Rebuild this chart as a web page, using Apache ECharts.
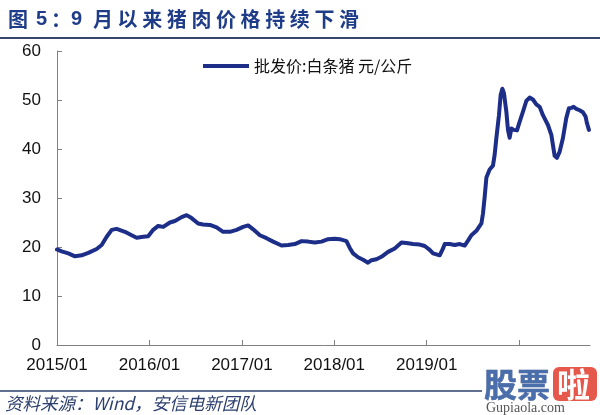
<!DOCTYPE html>
<html>
<head>
<meta charset="utf-8">
<style>html,body{margin:0;padding:0;background:#fff;}#c{width:600px;height:415px;}</style>
<script src="https://cdn.jsdelivr.net/npm/echarts@6/dist/echarts.min.js"></script>
</head>
<body>
<div id="c"></div>
<script>
// months since 2015/01 (fractional) and wholesale price 元/公斤
const months = [0,0.61,1.47,2.34,3.20,4.06,5.15,5.80,6.45,7.10,7.74,8.82,9.69,10.34,11.20,11.84,12.49,13.14,13.79,14.66,15.31,16.18,16.83,17.47,18.33,18.94,19.85,20.72,21.57,22.44,23.31,24.17,24.82,25.47,26.34,27.20,28.06,29.15,30.01,30.88,31.75,32.60,33.47,34.34,35.20,36.07,36.71,37.58,38.01,38.44,39.09,39.74,40.38,40.83,41.47,42.12,42.98,43.85,44.72,45.37,46.22,47.09,47.74,48.39,48.82,49.69,50.12,50.34,50.98,51.63,52.28,52.93,53.36,53.80,54.45,55.10,55.31,55.53,55.75,56.17,56.60,56.82,57.04,57.38,57.60,57.82,58.03,58.34,58.55,58.77,58.99,59.29,59.72,60.07,60.49,60.93,61.36,61.79,62.23,62.66,63.09,63.74,64.18,64.39,64.61,64.90,65.25,65.68,66.12,66.46,66.77,67.07,67.42,67.85,68.28,68.63,68.80,68.98,69.06];
const prices = [19.5,19.1,18.7,18.1,18.3,18.8,19.6,20.4,22.1,23.5,23.7,23.1,22.4,21.9,22.1,22.2,23.5,24.3,24.1,25.0,25.3,26.1,26.5,25.9,24.8,24.6,24.5,24.0,23.1,23.1,23.5,24.1,24.4,23.6,22.4,21.8,21.1,20.3,20.4,20.6,21.2,21.1,20.9,21.1,21.6,21.7,21.6,21.2,19.8,18.7,17.9,17.4,16.8,17.3,17.5,18.0,19.0,19.7,20.9,20.8,20.6,20.5,20.2,19.4,18.7,18.3,19.7,20.6,20.6,20.4,20.6,20.3,21.3,22.4,23.3,24.8,26.9,30.3,34.2,35.8,36.6,38.8,42.2,46.9,51.0,52.3,51.4,47.6,43.9,42.3,44.2,43.9,43.8,45.6,47.6,49.8,50.5,50.1,49.1,48.6,46.9,44.9,42.9,40.8,38.6,38.2,39.4,42.2,46.3,48.3,48.4,48.6,48.2,47.9,47.5,46.6,45.3,45.7,43.9];
const yearTicks = [0,12,24,36,48,60];
const yearLabels = ['2015/01','2016/01','2017/01','2018/01','2019/01','2020/01'];
const shownLabelTicks = [0,12,24,36,48];
const seriesName = '批发价:白条猪 元/公斤';
const titleHead = [['图',8,'cjk'],['5',36,'lat'],['：',51,'cjk'],['9',71,'lat']];
const titleTail = '月以来猪肉价格持续下滑';
const footerText = '资料来源：Wind，安信电新团队';

const chart = echarts.init(document.getElementById('c'), null, {renderer:'canvas'});
const navy = '#1f3c88';
const graphics = [];
titleHead.forEach(function(t){
  graphics.push({type:'text', x:t[1], y:19, style:{text:t[0], fill:navy, verticalAlign:'middle',
    font: t[2]==='lat' ? 'bold 20px "Liberation Sans"' : 'bold 20px "Noto Sans CJK SC"'}});
});
titleTail.split('').forEach(function(ch,i){
  graphics.push({type:'text', x:93+i*24.6, y:19, style:{text:ch, fill:navy, verticalAlign:'middle', font:'bold 20px "Noto Sans CJK SC"'}});
});
graphics.push({type:'line', shape:{x1:0,y1:38,x2:600,y2:38}, style:{stroke:'#34446b', lineWidth:2}});
graphics.push({type:'line', shape:{x1:0,y1:391,x2:482,y2:391}, style:{stroke:'#2c3f6e', lineWidth:1.5}});
graphics.push({type:'text', x:5, y:403, style:{text:footerText, fill:'#2c3f6e', verticalAlign:'middle', font:'italic 17.5px "Noto Sans CJK SC"'}});
// watermark
graphics.push({type:'text', x:484, y:384, z:10, style:{text:'股票', fill:'#4a6eab', stroke:'#2f4f8a', lineWidth:0.5, verticalAlign:'middle', font:'bold 33px "Noto Sans CJK SC"'}});
graphics.push({type:'rect', shape:{x:553,y:367,width:44,height:34,r:6}, z:10, style:{fill:'#e6584b'}});
graphics.push({type:'text', x:557, y:384, z:11, style:{text:'啦', fill:'#fff', verticalAlign:'middle', font:'bold 33px "Noto Sans CJK SC"'}});
graphics.push({type:'text', x:486, y:408, z:10, style:{text:'Gupiaola.com', fill:'#555', verticalAlign:'middle', font:'14px "Liberation Serif"'}});

chart.setOption({
  animation:false,
  backgroundColor:'#fff',
  grid:{left:57, right:10, top:51, bottom:70, containLabel:false},
  legend:{show:true, left:198, top:53, icon:'rect', itemWidth:46, itemHeight:4, itemGap:4,
    textStyle:{fontSize:16, color:'#111', fontFamily:'"Noto Sans CJK SC"'}, data:[seriesName]},
  xAxis:{type:'value', min:0, max:69.2,
    axisLine:{show:true, lineStyle:{color:'#808080', width:1}},
    axisTick:{show:true, inside:true, length:5, customValues:yearTicks, lineStyle:{color:'#808080'}},
    splitLine:{show:false},
    axisLabel:{customValues:shownLabelTicks, fontSize:17, color:'#111', margin:12, fontFamily:'"Liberation Sans"',
      formatter:function(v){ const i = yearTicks.indexOf(Math.round(v)); return i>=0 ? yearLabels[i] : ''; }}
  },
  yAxis:{type:'value', min:0, max:60, interval:10,
    axisLine:{show:true, lineStyle:{color:'#808080', width:1}},
    axisTick:{show:true, inside:true, length:5, lineStyle:{color:'#808080'}},
    splitLine:{show:false},
    axisLabel:{fontSize:17, color:'#111', margin:16, fontFamily:'"Liberation Sans"'}
  },
  series:[{name:seriesName, type:'line', symbol:'none', smooth:false,
    data: months.map(function(m,i){return [m, prices[i]];}),
    lineStyle:{color:'#1c2e87', width:4, join:'round', cap:'round'},
    itemStyle:{color:'#1c2e87'}
  }],
  graphic:graphics
});
</script>
</body>
</html>
